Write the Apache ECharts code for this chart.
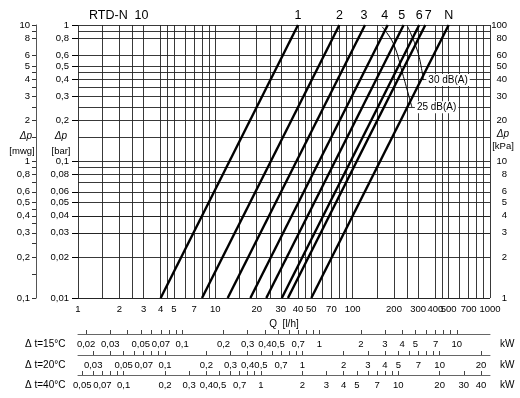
<!DOCTYPE html>
<html><head><meta charset="utf-8">
<script src="https://cdn.jsdelivr.net/npm/echarts@6/dist/echarts.min.js"></script>
<style>html,body{margin:0;padding:0;background:#fff}#c{width:520px;height:398px}</style>
</head><body><div id="c"></div>
<script>
// ---- data ----
const curveNames = ['1', '2', '3', '4', '5', '6', '7', 'N'];
const flowAtLow  = [4, 8, 12.3, 18, 23.5, 30.5, 33.8, 50];     // Q [l/h] at Δp = 0.01 bar
const flowAtHigh = [40, 80, 123, 180, 235, 305, 338, 500];     // Q [l/h] at Δp = 1 bar
const dpLow = 0.01, dpHigh = 1;
const noise25Q  = [164, 198, 234, 270];
const noise25Dp = [0.97, 0.73, 0.42, 0.25];
const noise30Q  = [252, 300, 327];
const noise30Dp = [0.97, 0.62, 0.395];
const qGrid  = [1,1.5,2,2.5,3,4,4.5,5,6,7,8,9,10,15,20,25,30,40,45,50,60,70,80,90,100,150,200,250,300,400,450,500,600,700,800,900,1000];
const dpGrid = [0.01,0.015,0.02,0.025,0.03,0.035,0.04,0.045,0.05,0.06,0.07,0.08,0.09,0.1,0.15,0.2,0.25,0.3,0.35,0.4,0.45,0.5,0.6,0.8,0.9,1];
const qLabels   = [1,2,3,4,5,7,10,20,30,40,50,70,100,200,300,400,500,700,1000];
const barLabels = [0.01,0.02,0.03,0.04,0.05,0.06,0.08,0.1,0.2,0.3,0.4,0.5,0.6,0.8,1];
const mwgLabels = [0.1,0.2,0.3,0.4,0.5,0.6,0.8,1,2,3,4,5,6,8,10];
const kpaLabels = [1,2,3,4,5,6,8,10,20,30,40,50,60,80,100];
const dtRows = [15, 20, 40];
const kwLabels = [
  [0.02,0.03,0.05,0.07,0.1,0.2,0.3,0.4,0.5,0.7,1,2,3,4,5,7,10],
  [0.03,0.05,0.07,0.1,0.2,0.3,0.4,0.5,0.7,1,2,3,4,5,7,10,20],
  [0.05,0.07,0.1,0.2,0.3,0.4,0.5,0.7,1,2,3,4,5,7,10,20,30,40]
];
const heatFactor = 1.163; // Wh/(l·K)

// ---- styling ----
const FF = '"Liberation Sans", Arial, sans-serif';
const TS = 9.5;
const labelShift = [0, 0, -1, -3, -2, 0, 3, 0];
const fmt = v => String(+(+v).toPrecision(6)).replace('.', ',');
const mwgTicks = dpGrid.map(v => +(v * 10).toPrecision(6));
function decadeTicks(lo, hi) {
  const out = [];
  for (let e = -3; e <= 3; e++) for (let m = 1; m <= 9; m++) {
    const v = +(m * Math.pow(10, e)).toPrecision(6);
    if (v >= lo * 0.9999 && v <= hi * 1.0001) out.push(v);
  }
  return out;
}

const grids = [{left: 78, right: 30, top: 25, bottom: 100, outerBoundsMode: 'none', containLabel: false}];
const xAxes = [{
  type: 'log', gridIndex: 0, min: 1, max: 1000, logBase: 10,
  axisLine: {show: false}, axisTick: {show: false}, splitLine: {show: false},
  axisLabel: {customValues: qLabels, formatter: fmt, margin: 6, fontSize: TS, color: '#000', fontFamily: FF, hideOverlap: false},
  name: 'Q  [l/h]', nameLocation: 'middle', nameGap: 17,
  nameTextStyle: {fontSize: 10, color: '#000', fontFamily: FF}
}];
const yAxes = [
  {type: 'log', gridIndex: 0, min: 0.01, max: 1, position: 'left',
   axisLine: {show: false}, splitLine: {show: false},
   axisTick: {show: true, customValues: barLabels, length: 6, lineStyle: {color: '#000', width: 1}},
   axisLabel: {customValues: barLabels, formatter: fmt, margin: 9, fontSize: TS, color: '#000', fontFamily: FF}},
  {type: 'log', gridIndex: 0, min: 0.1, max: 10, position: 'left', offset: 42,
   axisLine: {show: true, lineStyle: {color: '#555', width: 1}}, splitLine: {show: false},
   axisTick: {show: true, customValues: mwgTicks, length: 4, lineStyle: {color: '#333', width: 1}},
   axisLabel: {customValues: mwgLabels, formatter: fmt, margin: 6, fontSize: TS, color: '#000', fontFamily: FF}},
  {type: 'log', gridIndex: 0, min: 1, max: 100, position: 'right',
   axisLine: {show: false}, axisTick: {show: false}, splitLine: {show: false},
   axisLabel: {customValues: kpaLabels, formatter: fmt, margin: 17, align: 'right', fontSize: TS, color: '#000', fontFamily: FF}}
];
const graphics = [
  {type: 'text', x: 89, y: 16, style: {text: 'RTD-N  10', font: '12.5px ' + FF, fill: '#000', align: 'left', verticalAlign: 'middle'}},
  {type: 'text', x: 26, y: 136, style: {text: 'Δp', font: 'italic 10px ' + FF, fill: '#000', align: 'center', verticalAlign: 'middle'}},
  {type: 'text', x: 22, y: 151, style: {text: '[mwg]', font: '9.5px ' + FF, fill: '#000', align: 'center', verticalAlign: 'middle'}},
  {type: 'text', x: 61, y: 136, style: {text: 'Δp', font: 'italic 10px ' + FF, fill: '#000', align: 'center', verticalAlign: 'middle'}},
  {type: 'text', x: 61, y: 151, style: {text: '[bar]', font: '9.5px ' + FF, fill: '#000', align: 'center', verticalAlign: 'middle'}},
  {type: 'text', x: 503, y: 134, style: {text: 'Δp', font: 'italic 10px ' + FF, fill: '#000', align: 'center', verticalAlign: 'middle'}},
  {type: 'text', x: 503, y: 146, style: {text: '[kPa]', font: '9.5px ' + FF, fill: '#000', align: 'center', verticalAlign: 'middle'}}
];
const rowTop = [333, 354, 374];
dtRows.forEach((dt, i) => {
  const f = heatFactor * dt / 1000;
  grids.push({left: 78, right: 30, top: rowTop[i], height: 1, outerBoundsMode: 'none', containLabel: false});
  xAxes.push({
    type: 'log', gridIndex: i + 1, min: 1 * f, max: 1000 * f, logBase: 10,
    axisLine: {show: true, lineStyle: {color: '#666', width: 1}}, splitLine: {show: false},
    axisTick: {show: true, inside: true, length: 4, customValues: decadeTicks(f, 1000 * f), lineStyle: {color: '#444', width: 1}},
    axisLabel: {customValues: kwLabels[i], formatter: fmt, margin: 5, fontSize: TS, color: '#000', fontFamily: FF, hideOverlap: false}
  });
  yAxes.push({type: 'value', gridIndex: i + 1, show: false, min: 0, max: 1});
  graphics.push({type: 'text', x: 25, y: rowTop[i] + 11, style: {text: 'Δ t=' + dt + '°C', font: '10px ' + FF, fill: '#000', align: 'left', verticalAlign: 'middle'}});
  graphics.push({type: 'text', x: 500, y: rowTop[i] + 11, style: {text: 'kW', font: '10px ' + FF, fill: '#000', align: 'left', verticalAlign: 'middle'}});
});

const series = [];
// grid lines
series.push({
  type: 'line', xAxisIndex: 0, yAxisIndex: 0, data: [], silent: true, z: 1,
  markLine: {
    silent: true, symbol: ['none', 'none'], animation: false, label: {show: false},
    lineStyle: {color: '#222', width: 0.9, type: 'solid'},
    emphasis: {disabled: true},
    data: qGrid.map(v => ({xAxis: v})).concat(dpGrid.map(v => ({yAxis: v})))
  }
});
// valve characteristic lines
curveNames.forEach((nm, i) => {
  series.push({
    type: 'line', name: nm, xAxisIndex: 0, yAxisIndex: 0, z: 5, silent: true,
    symbol: 'circle', symbolSize: 0, showSymbol: true,
    lineStyle: {color: '#000', width: 2.4},
    data: [[flowAtLow[i], dpLow], {value: [flowAtHigh[i], dpHigh],
      label: {show: true, formatter: nm, position: 'top', distance: 3, offset: [labelShift[i], 0],
              fontSize: 12.5, color: '#000', fontFamily: FF}}]
  });
});
// noise limit curves
[[noise25Q, noise25Dp, '25 dB(A)'], [noise30Q, noise30Dp, '30 dB(A)']].forEach(([qs, ds, txt]) => {
  const d = qs.map((q, k) => [q, ds[k]]);
  const last = d.pop();
  d.push({value: last, label: {show: true, formatter: txt, position: 'right', distance: 3,
    fontSize: 10, color: '#000', fontFamily: FF, backgroundColor: '#fff', padding: [1, 2]}});
  series.push({
    type: 'line', xAxisIndex: 0, yAxisIndex: 0, z: 6, silent: true, smooth: 0.4,
    symbol: 'circle', symbolSize: 0, showSymbol: true,
    lineStyle: {color: '#000', width: 1}, data: d
  });
});

const chart = echarts.init(document.getElementById('c'), null, {renderer: 'canvas'});
chart.setOption({
  animation: false, backgroundColor: '#fff',
  grid: grids, xAxis: xAxes, yAxis: yAxes, series: series, graphic: graphics
});
</script></body></html>
